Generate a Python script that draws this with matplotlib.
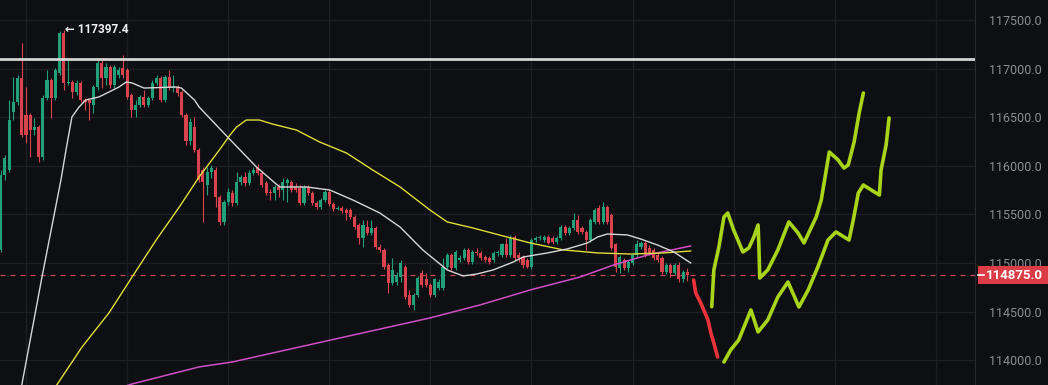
import matplotlib
matplotlib.use('Agg')
import matplotlib.pyplot as plt
import numpy as np

# ---------------- data ----------------
opens = [115130, 115910, 115960, 116550, 116660, 116900, 116520, 116520, 116370, 116400,
         116090, 116700, 116880, 116700, 116950, 117370, 116850, 116860, 116760, 116850,
         116680, 116680, 116630, 116810, 117060, 116900, 117020, 116830, 116930, 117010,
         116990, 116730, 116570, 116630, 116710, 116630, 116700, 116850, 116900, 116680,
         116910, 116800, 116810, 116760, 116520, 116250, 116400, 116160, 115960, 115800,
         115940, 115960, 115680, 115420, 115630, 115720, 115620, 115830, 115880, 115820,
         115930, 115990, 115930, 115820, 115730, 115720, 115780, 115750, 115820, 115830,
         115780, 115770, 115620, 115780, 115720, 115620, 115580, 115650, 115730, 115610,
         115560, 115570, 115550, 115550, 115470, 115390, 115260, 115370, 115310, 115360,
         115160, 115130, 114980, 114790, 114800, 114860, 114960, 114670, 114570, 114670,
         114900, 114830, 114770, 114670, 114740, 114740, 114960, 115080, 114950, 115030,
         115050, 115130, 115010, 115110, 115100, 115060, 115050, 115030, 115100, 115080,
         115190, 115080, 115270, 115080, 115060, 115030, 114960, 115240, 115260, 115240,
         115270, 115260, 115220, 115260, 115370, 115310, 115360, 115440, 115360, 115320,
         115240, 115420, 115570, 115420, 115580, 115490, 115190, 114950, 115030, 114950,
         115000, 115080, 115160, 115210, 115150, 115130, 115080, 115050, 114910, 114980,
         114900, 114980, 114830, 114910]
highs = [115960, 116110, 116680, 116910, 116930, 117260, 116810, 116540, 116490, 116420,
         116730, 116990, 116900, 117010, 117390, 117397.4, 117110, 116880, 116880, 116870,
         116700, 116700, 116830, 117090, 117090, 117060, 117040, 117040, 117020, 117140,
         117010, 116750, 116680, 116730, 116780, 116720, 116880, 116930, 116920, 116930,
         116990, 116930, 116830, 116780, 116540, 116490, 116500, 116180, 115990, 115990,
         116010, 115990, 115700, 115650, 115770, 115750, 115940, 115910, 115940, 115960,
         115990, 116020, 115950, 115840, 115760, 115800, 115810, 115870, 115870, 115850,
         115820, 115800, 115800, 115800, 115740, 115640, 115670, 115750, 115750, 115630,
         115590, 115590, 115570, 115570, 115490, 115410, 115440, 115440, 115440, 115380,
         115190, 115150, 115000, 115050, 114910, 115030, 114980, 114720, 114690, 114870,
         114930, 114900, 114790, 114850, 114830, 115050, 115100, 115100, 115130, 115080,
         115150, 115150, 115130, 115150, 115120, 115080, 115070, 115120, 115130, 115210,
         115260, 115290, 115290, 115110, 115080, 115050, 115260, 115280, 115290, 115290,
         115290, 115280, 115280, 115390, 115390, 115380, 115510, 115490, 115380, 115340,
         115460, 115570, 115600, 115630, 115600, 115510, 115210, 115080, 115050, 115030,
         115100, 115240, 115230, 115230, 115180, 115150, 115100, 115070, 115000, 115000,
         115000, 115010, 114930, 114950]
lows = [115110, 115850, 115940, 116470, 116630, 116300, 116230, 116090, 116320, 116040,
        116060, 116680, 116490, 116680, 116930, 116780, 116830, 116700, 116730, 116660,
        116570, 116470, 116540, 116780, 116800, 116830, 116800, 116800, 116900, 116900,
        116690, 116500, 116500, 116600, 116600, 116600, 116680, 116830, 116660, 116660,
        116780, 116760, 116720, 116500, 116210, 116210, 116140, 115830, 115420, 115700,
        115870, 115580, 115390, 115390, 115600, 115590, 115600, 115800, 115790, 115800,
        115900, 115910, 115780, 115700, 115650, 115650, 115680, 115650, 115630, 115730,
        115730, 115600, 115600, 115700, 115600, 115560, 115560, 115630, 115590, 115530,
        115550, 115510, 115440, 115450, 115350, 115190, 115160, 115290, 115290, 115140,
        115110, 114940, 114690, 114770, 114770, 114800, 114630, 114550, 114520, 114650,
        114750, 114750, 114650, 114650, 114720, 114720, 114940, 114930, 114930, 115010,
        115030, 114990, 114990, 115080, 115030, 115010, 114990, 115010, 115070, 115060,
        115060, 115060, 115030, 115010, 114950, 114950, 114940, 115220, 115240, 115220,
        115190, 115200, 115200, 115240, 115290, 115290, 115340, 115300, 115300, 115130,
        115220, 115400, 115400, 115400, 115400, 115130, 114910, 114900, 114930, 114910,
        114980, 115060, 115140, 115060, 115080, 115030, 115010, 114890, 114890, 114860,
        114880, 114800, 114800, 114810]
closes = [115910, 116080, 116470, 116660, 116900, 116320, 116320, 116370, 116400, 116090,
          116700, 116880, 116700, 116990, 117370, 116850, 116860, 116760, 116850, 116680,
          116660, 116650, 116810, 117060, 116900, 117020, 116830, 117020, 116990, 116930,
          116710, 116570, 116630, 116710, 116630, 116700, 116850, 116900, 116680, 116910,
          116800, 116820, 116750, 116520, 116250, 116450, 116160, 115850, 115830, 115940,
          115980, 115680, 115420, 115630, 115730, 115620, 115830, 115880, 115820, 115930,
          115960, 115930, 115800, 115720, 115720, 115780, 115750, 115830, 115850, 115750,
          115750, 115620, 115780, 115720, 115620, 115580, 115650, 115730, 115610, 115560,
          115570, 115530, 115510, 115470, 115370, 115260, 115390, 115310, 115360, 115160,
          115130, 114960, 114790, 114930, 114880, 115000, 114650, 114570, 114670, 114850,
          114770, 114770, 114670, 114830, 114800, 114960, 115080, 114950, 115110, 115050,
          115130, 115010, 115110, 115100, 115050, 115030, 115010, 115100, 115110, 115190,
          115080, 115260, 115050, 115050, 114980, 114960, 115240, 115260, 115270, 115270,
          115210, 115220, 115260, 115370, 115310, 115360, 115440, 115320, 115320, 115240,
          115440, 115550, 115420, 115580, 115420, 115150, 114960, 115060, 114950, 115010,
          115080, 115190, 115210, 115080, 115100, 115050, 115030, 114910, 114980, 114900,
          114980, 114830, 114910, 114875]

# moving averages (candle index, price)
ma_fast_x = [4.3, 5.0, 9.8, 14.3, 15.5, 16.9, 18.6, 20.2, 23.3, 25.7, 28.1, 29.8, 31.2, 34.0,
             41.7, 42.9, 46.0, 47.1, 54.3, 60.7, 66.2, 72.6, 78.1, 83.6, 90.0, 94.8, 100.2,
             106.0, 109.8, 113.1, 116.9, 121.7, 124.0, 129.8, 134.5, 139.3, 141.7, 144.0,
             148.8, 151.9, 155.9, 159.8, 163.8]
ma_fast_y = [113590, 113744, 114856, 115854, 116163, 116502, 116605, 116677, 116708, 116759,
             116811, 116862, 116852, 116800, 116811, 116800, 116677, 116605, 116276, 115988,
             115782, 115782, 115751, 115648, 115514, 115370, 115134, 114928, 114866, 114887,
             114928, 115010, 115061, 115103, 115144, 115206, 115267, 115298, 115288, 115247,
             115185, 115113, 115000]
ma_mid_x = [11.0, 13.3, 19.3, 25.7, 31.2, 36.9, 42.4, 47.1, 51.9, 54.5, 56.0, 58.3, 61.4, 64.5,
            70.2, 75.7, 82.1, 88.3, 94.8, 101.9, 106.0, 112.1, 120.2, 125.7, 133.6, 141.7,
            149.5, 157.4, 163.8]
ma_mid_y = [113590, 113744, 114135, 114486, 114856, 115236, 115576, 115885, 116162, 116320,
            116399, 116471, 116471, 116430, 116368, 116245, 116131, 115957, 115782, 115545,
            115422, 115360, 115267, 115206, 115134, 115103, 115092, 115103, 115123]
ma_slow_x = [28.1, 31.2, 47.1, 55.0, 71.0, 101.9, 113.8, 125.7, 137.6, 145.5, 153.6, 163.8]
ma_slow_y = [113713, 113755, 113930, 113981, 114136, 114434, 114568, 114722, 114856, 114979,
             115082, 115175]

# hand drawn projections (candle index, price)
drop_x = [164.5, 165.0, 166.2, 166.9, 167.9, 168.6, 169.3, 170.2]
drop_y = [114825, 114691, 114588, 114516, 114413, 114279, 114176, 114032]
path_a_x = [168.8, 169.3, 170.5, 171.7, 172.6, 174.0, 176.2, 177.6, 178.8, 179.8, 180.0, 180.2,
            182.1, 184.5, 187.1, 189.3, 190.7, 193.6, 194.8, 196.7, 198.8, 200.2, 201.2, 202.6,
            203.8, 204.8]
path_a_y = [114550, 114928, 115164, 115473, 115514, 115339, 115113, 115154, 115267, 115391,
            115164, 114845, 114928, 115134, 115422, 115308, 115206, 115473, 115648, 116142,
            116060, 115977, 116008, 116245, 116543, 116749]
path_b_x = [171.7, 173.3, 175.2, 178.1, 179.8, 182.1, 184.5, 186.9, 189.5, 191.7, 194.0, 196.4,
            198.3, 201.4, 202.4, 203.6, 204.8, 208.6, 209.0, 210.2, 210.9]
path_b_y = [113981, 114105, 114207, 114516, 114290, 114413, 114650, 114804, 114547, 114722,
            114959, 115236, 115319, 115236, 115442, 115720, 115802, 115699, 115957, 116214,
            116492]

resistance = 117100
last_price = 114875.0
peak_price = 117397.4
peak_index = 15
price_ticks = [114000, 114500, 115000, 115500, 116000, 116500, 117000, 117500]

# ---------------- style ----------------
BG = '#0e0f12'
GRID = '#1c1f24'
UP = '#22a07a'
DOWN = '#d8434e'
W, H = 1048, 385
YMIN, YMAX = 113744, 117706

fig = plt.figure(figsize=(W / 100, H / 100), dpi=100, facecolor=BG)
ax = fig.add_axes([0, 0, 975 / W, 1])
ax.set_facecolor(BG)
ax.set_xlim(-0.17, 231.3)
ax.set_ylim(YMIN, YMAX)

ax.set_yticks(price_ticks)
ax.set_yticklabels([f'{v:.1f}' for v in price_ticks])
ax.yaxis.tick_right()
ax.tick_params(axis='y', length=0, pad=10, labelcolor='#8a8d94', labelsize=9)
for lab in ax.get_yticklabels():
    lab.set_family(['Roboto', 'DejaVu Sans'])
ax.set_xticks([6 + 24 * k for k in range(10)])
ax.tick_params(axis='x', length=0, labelbottom=False)
ax.grid(True, color=GRID, lw=0.9)
ax.set_axisbelow(True)
for s in ['top', 'left', 'bottom']:
    ax.spines[s].set_visible(False)
ax.spines['right'].set_color('#262a31')
ax.spines['right'].set_linewidth(0.8)

# candles
idx = np.arange(len(closes))
o = np.array(opens, float)
c = np.array(closes, float)
h = np.array(highs, float)
l = np.array(lows, float)
cols = np.where(c >= o, UP, DOWN)
ax.vlines(idx, l, h, colors=cols, lw=0.8, zorder=3)
bottom = np.minimum(o, c)
height = np.maximum(np.abs(c - o), 8)
ax.bar(idx, height, bottom=bottom, width=0.74, color=cols, lw=0, zorder=4)

# moving averages
ax.plot(ma_slow_x, ma_slow_y, color='#cf4fc6', lw=1.1, zorder=5)
ax.plot(ma_mid_x, ma_mid_y, color='#dede3a', lw=1.0, zorder=5)
ax.plot(ma_fast_x, ma_fast_y, color='#d6d6d6', lw=1.0, zorder=5)

# resistance and last price
ax.axhline(resistance, color='#d4d4d4', lw=2.0, zorder=6)
ax.axhline(last_price, color='#c8485a', lw=0.9, ls=(0, (4, 4)), zorder=2)

# drawings
ax.plot(drop_x, drop_y, color='#e8333a', lw=2.6, solid_capstyle='round',
        solid_joinstyle='round', zorder=7)
for px, py in [(path_a_x, path_a_y), (path_b_x, path_b_y)]:
    ax.plot(px, py, color='#a8d41a', lw=2.6, solid_capstyle='round',
            solid_joinstyle='round', zorder=7)

# peak label
ax.text(peak_index + 0.35, peak_price, '\u2190 117397.4', color='#f2f2f2', fontsize=8.5,
        fontweight='bold', family=['Roboto', 'DejaVu Sans'], va='center', ha='left', zorder=8)

# last price tag (covers part of the 115000.0 label, as in the reference)
y_frac = (last_price - YMIN) / (YMAX - YMIN)
fig.patches.append(plt.Rectangle((978 / W, y_frac - 9 / H), 70 / W, 18 / H,
                                 transform=fig.transFigure, facecolor='#dc3c45',
                                 edgecolor='none', zorder=10))
fig.lines.append(plt.Line2D([978 / W, 984 / W], [y_frac, y_frac], transform=fig.transFigure,
                            color='white', lw=1.2, zorder=11))
fig.text(1014 / W, y_frac, f'{last_price:.1f}', color='white', fontsize=9.5,
         fontweight='bold', family=['Roboto', 'DejaVu Sans'], ha='center', va='center',
         zorder=12)

fig.savefig('out.png', dpi=100, facecolor=BG)
